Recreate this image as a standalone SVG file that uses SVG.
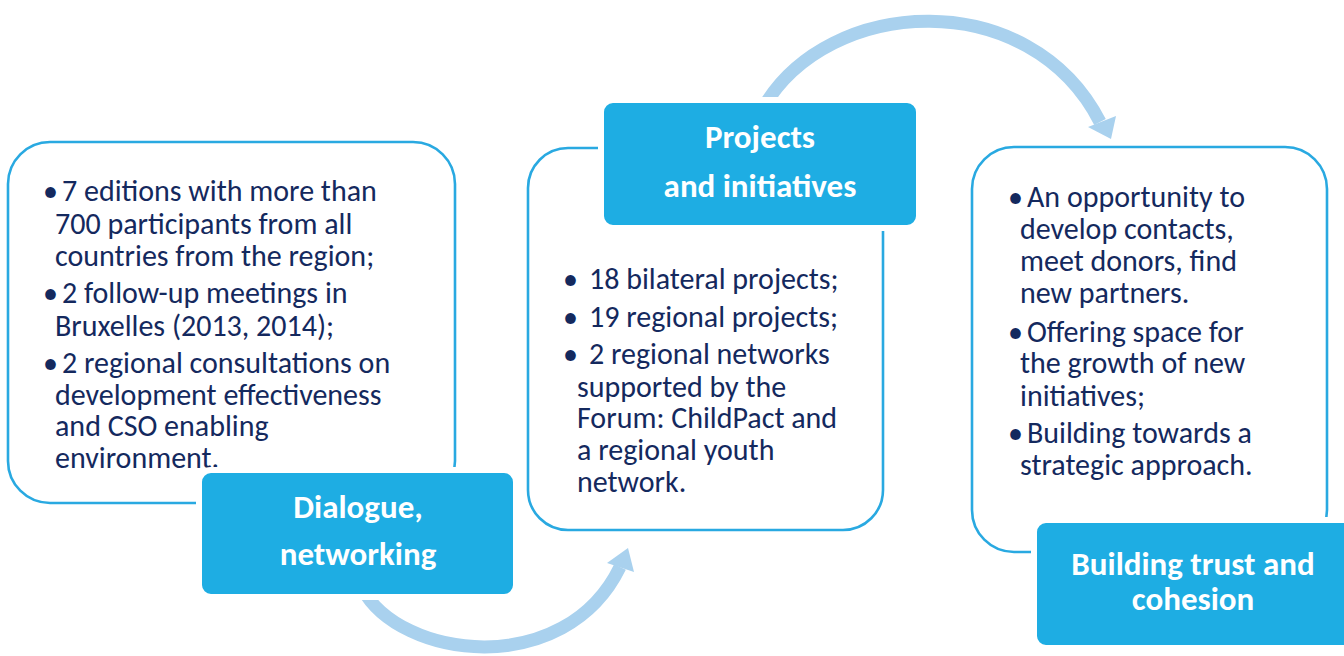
<svg xmlns="http://www.w3.org/2000/svg" width="1344" height="656" viewBox="0 0 1344 656">
<style>
.frame{fill:#fff;stroke:#29a9e1;stroke-width:2.6}
.label{fill:#1eade3;stroke:#fff;stroke-width:6}
.title{font-family:Carlito,Lato,"Open Sans",sans-serif;font-weight:bold;font-size:33px;fill:#fff;text-anchor:middle}
.body{font-family:Carlito,Lato,"Open Sans",sans-serif;font-size:30px;fill:#14295e}
.arc{fill:none;stroke:#a9d1ee;stroke-width:13}
.head{fill:#a9d1ee}
</style>
<rect width="1344" height="656" fill="#fff"/>
<g id="connectors">
<path class="arc" d="M 362 588 C 400 660, 565 680, 620 567"/>
<polygon class="head" points="607,563 634,572 628,548"/>
<path class="arc" d="M 763 108 C 828 -5, 1030 -15, 1100 122"/>
<polygon class="head" points="1088,127 1116,116 1111,139"/>
</g>
<g id="node-dialogue">
<rect class="frame" x="8" y="142" width="447" height="361" rx="42"/>
<text class="body">
<tspan x="43" y="201">•</tspan><tspan x="62" y="201">7 editions with more than</tspan>
<tspan x="55" y="234">700 participants from all</tspan>
<tspan x="55" y="266">countries from the region;</tspan>
<tspan x="43" y="303">•</tspan><tspan x="62" y="303">2 follow-up meetings in</tspan>
<tspan x="55" y="336">Bruxelles (2013, 2014);</tspan>
<tspan x="43" y="373">•</tspan><tspan x="62" y="373">2 regional consultations on</tspan>
<tspan x="55" y="405">development effectiveness</tspan>
<tspan x="55" y="436">and CSO enabling</tspan>
<tspan x="55" y="468">environment.</tspan>
</text>
<rect class="label" x="199" y="470" width="317" height="127" rx="12"/>
<text class="title"><tspan x="358" y="518">Dialogue,</tspan><tspan x="358" y="565">networking</tspan></text>
</g>
<g id="node-projects">
<rect class="frame" x="528" y="148" width="355" height="382" rx="40"/>
<rect class="label" x="601" y="100" width="318" height="128" rx="12"/>
<text class="title"><tspan x="760" y="148">Projects</tspan><tspan x="760" y="197">and initiatives</tspan></text>
<text class="body">
<tspan x="563" y="289">•</tspan><tspan x="589" y="289">18 bilateral projects;</tspan>
<tspan x="563" y="327">•</tspan><tspan x="589" y="327">19 regional projects;</tspan>
<tspan x="563" y="364">•</tspan><tspan x="589" y="364">2 regional networks</tspan>
<tspan x="577" y="397">supported by the</tspan>
<tspan x="577" y="428">Forum: ChildPact and</tspan>
<tspan x="577" y="460">a regional youth</tspan>
<tspan x="577" y="492">network.</tspan>
</text>
</g>
<g id="node-trust">
<rect class="frame" x="972" y="147" width="355" height="405" rx="42"/>
<text class="body">
<tspan x="1008" y="207">•</tspan><tspan x="1027" y="207">An opportunity to</tspan>
<tspan x="1020" y="239">develop contacts,</tspan>
<tspan x="1020" y="271">meet donors, find</tspan>
<tspan x="1020" y="303">new partners.</tspan>
<tspan x="1008" y="342">•</tspan><tspan x="1027" y="342">Offering space for</tspan>
<tspan x="1020" y="373">the growth of new</tspan>
<tspan x="1020" y="406">initiatives;</tspan>
<tspan x="1008" y="443">•</tspan><tspan x="1027" y="443">Building towards a</tspan>
<tspan x="1020" y="475">strategic approach.</tspan>
</text>
<rect class="label" x="1034" y="520" width="324" height="128" rx="12"/>
<text class="title"><tspan x="1193" y="575">Building trust and</tspan><tspan x="1193" y="610">cohesion</tspan></text>
</g>
</svg>
